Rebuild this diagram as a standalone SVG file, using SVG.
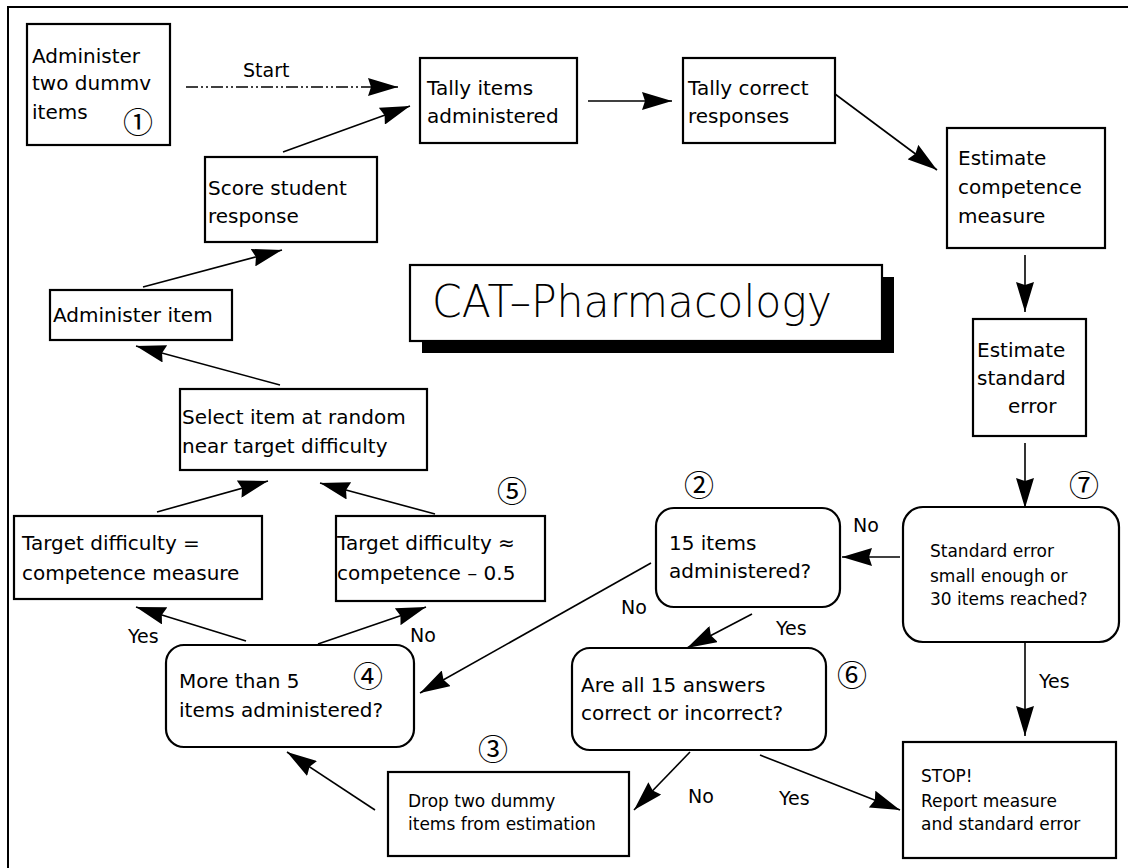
<svg xmlns="http://www.w3.org/2000/svg" width="1128" height="868" viewBox="0 0 1128 868">
<style>
.box{fill:#fff;stroke:#000;stroke-width:2.2}
.t{font-family:"DejaVu Sans","Liberation Sans",sans-serif;font-size:20px;fill:#000}
.s{font-family:"DejaVu Sans","Liberation Sans",sans-serif;font-size:17px;fill:#000}
.lb{font-family:"DejaVu Sans","Liberation Sans",sans-serif;font-size:19px;fill:#000}
.n{font-family:"Noto Sans CJK JP","DejaVu Sans",serif;font-size:30px;fill:#000;text-anchor:middle;dominant-baseline:central}
.c{stroke:#000;stroke-width:1.6;fill:none;marker-end:url(#ah)}
.title{font-family:"DejaVu Sans","Liberation Sans",sans-serif;font-size:45px;font-weight:200;fill:#000}
</style>
<defs>
<marker id="ah" markerUnits="userSpaceOnUse" markerWidth="30" markerHeight="18" refX="30" refY="9" orient="auto">
<path d="M0,0 L30,9 L0,18 L3,9 Z" fill="#000"/>
</marker>
</defs>
<rect width="1128" height="868" fill="#fff"/>
<path d="M8,868 V7 H1128" fill="none" stroke="#000" stroke-width="2"/>

<g id="title">
<rect x="422" y="277" width="472" height="76" fill="#000"/>
<rect x="410" y="265" width="472" height="76" class="box" stroke-width="1.5"/>
<text class="title" x="432" y="317" textLength="400" lengthAdjust="spacingAndGlyphs">CAT–Pharmacology</text>
</g>

<g id="connectors">
<path d="M186,87 H398" class="c" stroke-dasharray="12,3,2,3,2,3"/>
<text class="lb" x="243" y="77">Start</text>
<path d="M283,152 L410,106" class="c"/>
<path d="M588,101 H672" class="c"/>
<path d="M835,94 L937,170" class="c"/>
<path d="M1025,255 V312" class="c"/>
<path d="M1025,443 V508" class="c"/>
<path d="M900,557 H842" class="c"/>
<text class="lb" x="853" y="532">No</text>
<path d="M1025,642 V736" class="c"/>
<text class="lb" x="1039" y="688">Yes</text>
<path d="M651,563 L420,693" class="c"/>
<text class="lb" x="621" y="614">No</text>
<path d="M752,614 L687,648" class="c"/>
<text class="lb" x="776" y="635">Yes</text>
<path d="M690,752 L634,810" class="c"/>
<text class="lb" x="688" y="803">No</text>
<path d="M760,755 L900,810" class="c"/>
<text class="lb" x="779" y="805">Yes</text>
<path d="M375,810 L287,752" class="c"/>
<path d="M246,641 L136,607" class="c"/>
<text class="lb" x="128" y="643">Yes</text>
<path d="M318,644 L426,607" class="c"/>
<text class="lb" x="410" y="642">No</text>
<path d="M157,512 L268,481" class="c"/>
<path d="M435,514 L320,483" class="c"/>
<path d="M280,385 L136,346" class="c"/>
<path d="M143,287 L282,250" class="c"/>
</g>

<g id="n1">
<rect x="27" y="24" width="143" height="121" class="box"/>
<text class="t" x="32" y="63">Administer</text>
<text class="t" x="32" y="90">two dummv</text>
<text class="t" x="32" y="119">items</text>
<text class="n" x="138" y="120" font-size="26">①</text>
</g>
<g id="tally-items">
<rect x="420" y="58" width="157" height="85" class="box"/>
<text class="t" x="427" y="95">Tally items</text>
<text class="t" x="427" y="123">administered</text>
</g>
<g id="tally-correct">
<rect x="683" y="58" width="152" height="85" class="box"/>
<text class="t" x="688" y="95">Tally correct</text>
<text class="t" x="688" y="123">responses</text>
</g>
<g id="est-comp">
<rect x="947" y="128" width="158" height="120" class="box"/>
<text class="t" x="958" y="165">Estimate</text>
<text class="t" x="958" y="194">competence</text>
<text class="t" x="958" y="223">measure</text>
</g>
<g id="est-se">
<rect x="973" y="319" width="113" height="117" class="box"/>
<text class="t" x="977" y="357">Estimate</text>
<text class="t" x="977" y="385">standard</text>
<text class="t" x="1008" y="413">error</text>
</g>
<g id="score">
<rect x="205" y="157" width="172" height="85" class="box"/>
<text class="t" x="208" y="195">Score student</text>
<text class="t" x="208" y="223">response</text>
</g>
<g id="admin-item">
<rect x="50" y="290" width="182" height="50" class="box"/>
<text class="t" x="53" y="322">Administer item</text>
</g>
<g id="select">
<rect x="180" y="389" width="247" height="81" class="box"/>
<text class="t" x="182" y="424">Select item at random</text>
<text class="t" x="182" y="453">near target difficulty</text>
</g>
<g id="target-eq">
<rect x="14" y="516" width="248" height="83" class="box"/>
<text class="t" x="22" y="550">Target difficulty =</text>
<text class="t" x="22" y="580">competence measure</text>
</g>
<g id="target-approx">
<rect x="336" y="516" width="209" height="85" class="box"/>
<text class="t" x="337" y="550">Target difficulty ≈</text>
<text class="t" x="337" y="580">competence – 0.5</text>
<text class="n" x="512" y="489">⑤</text>
</g>
<g id="n4">
<rect x="166" y="645" width="248" height="102" rx="18" class="box"/>
<text class="t" x="179" y="688">More than 5</text>
<text class="t" x="179" y="717">items administered?</text>
<text class="n" x="368" y="674">④</text>
</g>
<g id="n2">
<rect x="656" y="508" width="184" height="99" rx="18" class="box"/>
<text class="t" x="669" y="550">15 items</text>
<text class="t" x="669" y="578">administered?</text>
<text class="n" x="699" y="483">②</text>
</g>
<g id="n7">
<rect x="903" y="507" width="216" height="135" rx="20" class="box"/>
<text class="s" x="930" y="557">Standard error</text>
<text class="s" x="930" y="582">small enough or</text>
<text class="s" x="930" y="605">30 items reached?</text>
<text class="n" x="1084" y="483">⑦</text>
</g>
<g id="n6">
<rect x="572" y="648" width="254" height="102" rx="18" class="box"/>
<text class="t" x="581" y="692">Are all 15 answers</text>
<text class="t" x="581" y="720">correct or incorrect?</text>
<text class="n" x="852" y="673">⑥</text>
</g>
<g id="n3">
<rect x="388" y="772" width="241" height="84" class="box"/>
<text class="s" x="408" y="807">Drop two dummy</text>
<text class="s" x="408" y="830">items from estimation</text>
<text class="n" x="493" y="747">③</text>
</g>
<g id="stop">
<rect x="903" y="742" width="213" height="116" class="box"/>
<text class="s" x="921" y="782">STOP!</text>
<text class="s" x="921" y="807">Report measure</text>
<text class="s" x="921" y="830">and standard error</text>
</g>
</svg>
